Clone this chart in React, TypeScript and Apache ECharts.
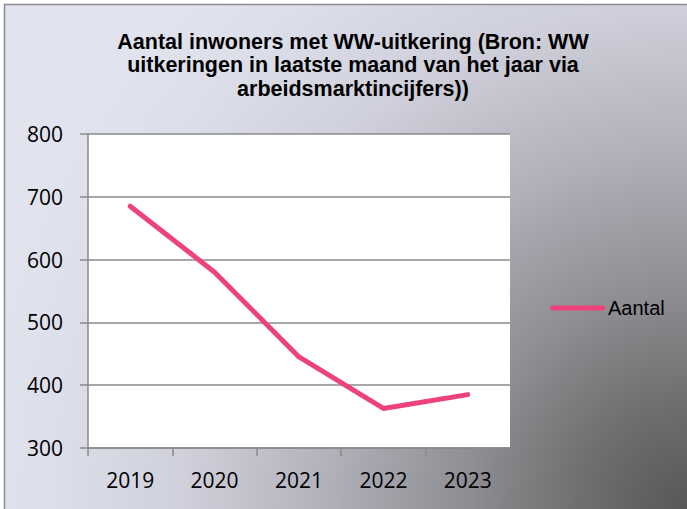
import React, { useEffect, useRef } from "react";
import * as echarts from "echarts";

const titleLines = [
  "Aantal inwoners met WW-uitkering (Bron: WW",
  "uitkeringen in laatste maand van het jaar via",
  "arbeidsmarktincijfers))",
];
const years = ["2019", "2020", "2021", "2022", "2023"];
const aantal = [685, 580, 445, 363, 385];
const seriesName = "Aantal";
const yMin = 300;
const yMax = 800;
const yStep = 100;

export default function App() {
  const ref = useRef<HTMLDivElement>(null);
  useEffect(() => {
    if (!ref.current) return;
    const chart = echarts.init(ref.current, undefined, { renderer: "svg" });
    const pink = "#EE437A";
    const axisGray = "#8a8a8a";
    chart.setOption({
      animation: false,
      graphic: [
        {
          type: "rect",
          z: -10,
          silent: true,
          shape: { x: 4.5, y: 4.5, width: 720, height: 540 },
          style: {
            stroke: "#8c8c8c",
            lineWidth: 1.5,
            fill: {
              type: "radial",
              x: 687,
              y: 509,
              r: 720,
              global: true,
              colorStops: [
                { offset: 0, color: "#575755" },
                { offset: 0.15, color: "#6f6f6f" },
                { offset: 0.3, color: "#8d8d92" },
                { offset: 0.5, color: "#b0b1b9" },
                { offset: 0.7, color: "#cfd0db" },
                { offset: 0.88, color: "#dcdeea" },
                { offset: 1, color: "#e1e3ef" },
              ],
            },
          },
        },
      ],
      title: {
        text: titleLines.join("\n"),
        left: 353,
        top: 30,
        padding: 0,
        textAlign: "center",
        textStyle: {
          fontFamily: "Liberation Sans",
          fontWeight: "bold",
          fontSize: 21.5,
          lineHeight: 23.5,
          color: "#000",
        },
      },
      legend: {
        left: 550,
        top: 298,
        padding: 0,
        itemWidth: 55,
        itemHeight: 5,
        data: [
          {
            name: seriesName,
            icon: "path://M2.5,0 H52.5 A2.5,2.5 0 0 1 52.5,5 H2.5 A2.5,2.5 0 0 1 2.5,0 Z",
            itemStyle: { color: pink },
          },
        ],
        textStyle: {
          fontFamily: "Liberation Sans",
          fontSize: 20,
          color: "#000",
          padding: [0, 0, 0, -2],
        },
      },
      grid: {
        left: 88,
        right: 177,
        top: 134,
        bottom: 61,
        show: true,
        backgroundColor: "#ffffff",
        borderWidth: 0,
        containLabel: false,
      },
      xAxis: {
        type: "category",
        data: years,
        boundaryGap: true,
        axisLine: { show: true, lineStyle: { color: axisGray, width: 1.5 } },
        axisTick: { show: true, length: 8, interval: 0, lineStyle: { color: axisGray, width: 1.5 } },
        axisLabel: {
          margin: 21,
          fontFamily: "Open Sans",
          fontSize: 21,
          color: "#000",
        },
        splitLine: { show: false },
      },
      yAxis: {
        type: "value",
        min: yMin,
        max: yMax,
        interval: yStep,
        axisLine: { show: true, lineStyle: { color: axisGray, width: 1.5 } },
        axisTick: { show: true, length: 8, lineStyle: { color: axisGray, width: 1.5 } },
        axisLabel: {
          margin: 25,
          fontFamily: "Open Sans",
          fontSize: 21,
          color: "#000",
        },
        splitLine: { show: true, lineStyle: { color: axisGray, width: 1.5 } },
      },
      series: [
        {
          name: seriesName,
          type: "line",
          data: aantal,
          symbol: "none",
          showSymbol: false,
          lineStyle: { color: pink, width: 5, cap: "round", join: "round" },
          itemStyle: { color: pink },
        },
      ],
    });
    return () => chart.dispose();
  }, []);
  return (
    <div
      ref={ref}
      style={{ position: "absolute", left: 0, top: 0, width: 687, height: 509 }}
    />
  );
}
